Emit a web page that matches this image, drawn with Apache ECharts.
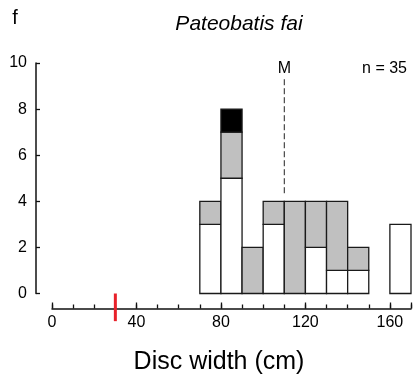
<!DOCTYPE html>
<html><head><meta charset="utf-8">
<script src="https://cdn.jsdelivr.net/npm/echarts@6/dist/echarts.min.js"></script>
<style>html,body{margin:0;padding:0;background:#fff}#c{width:414px;height:377px}</style>
</head><body><div id="c"></div>
<script>
// ---- data ----
const binStarts   = [70, 80, 90, 100, 110, 120, 130, 140, 150, 160];
const binWidth    = 10;
const whiteCounts = [3, 5, 0, 3, 0, 2, 1, 1, 0, 3];
const grayCounts  = [1, 2, 2, 1, 4, 2, 3, 1, 0, 0];
const blackCounts = [0, 1, 0, 0, 0, 0, 0, 0, 0, 0];
const xLabelValues = [0, 40, 80, 120, 160];
const yTickValues  = [0, 2, 4, 6, 8, 10];
const meanValue = 110;
const meanLineRange = [4.35, 9.3];
const markerValue = 30;
const markerRange = [-1.2, 0];
const sampleText = 'n = 35';
const speciesName = 'Pateobatis fai';
const panelLetter = 'f';
const xAxisTitle = 'Disc width (cm)';

// ---- build ----
const layerColors = ['#ffffff', '#c0c0c0', '#000000'];
const layers = [whiteCounts, grayCounts, blackCounts];
const rectData = [];
binStarts.forEach((s, i) => {
  let base = 0;
  layers.forEach((arr, li) => {
    const v = arr[i];
    if (v > 0) { rectData.push([s, s + binWidth, base, base + v, li]); base += v; }
  });
});

const FONT = '"Liberation Sans", Arial, sans-serif';
const axisLineStyle = { color: '#111', width: 1.5 };

const chart = echarts.init(document.getElementById('c'), null, { renderer: 'canvas' });
chart.setOption({
  animation: false,
  backgroundColor: '#fff',
  grid: { left: 52, right: 3, top: 63, bottom: 83.5, containLabel: false },
  xAxis: [{
    type: 'value', min: 0, max: 170, interval: 10, position: 'bottom', offset: 15,
    axisLine: { show: true, onZero: false, lineStyle: axisLineStyle },
    axisTick: { show: true, inside: true, length: 4, lineStyle: { color: '#111', width: 1.3 } },
    axisLabel: { show: true, margin: 6, fontSize: 16, color: '#000', fontFamily: FONT,
      formatter: v => (xLabelValues.indexOf(v) >= 0 ? String(v) : '') },
    splitLine: { show: false }
  }, {
    type: 'value', min: 0, max: 170, interval: 40, position: 'bottom', offset: 15,
    axisLine: { show: false, onZero: false },
    axisTick: { show: true, inside: true, length: 6, lineStyle: { color: '#111', width: 1.3 } },
    axisLabel: { show: false },
    splitLine: { show: false }
  }],
  yAxis: {
    type: 'value', min: 0, max: 10, interval: 2, offset: 16,
    axisLine: { show: true, onZero: false, lineStyle: axisLineStyle },
    axisTick: { show: true, inside: true, length: 4, lineStyle: { color: '#111', width: 1.3 } },
    axisLabel: { margin: 9, fontSize: 16, color: '#000', fontFamily: FONT,
      formatter: v => (yTickValues.indexOf(v) >= 0 ? String(v) : '') },
    splitLine: { show: false }
  },
  series: [{
    type: 'custom', xAxisIndex: 0, yAxisIndex: 0, data: rectData, z: 3,
    renderItem: (params, api) => {
      const p0 = api.coord([api.value(0), api.value(2)]);
      const p1 = api.coord([api.value(1), api.value(3)]);
      return { type: 'rect',
        shape: { x: p0[0], y: p1[1], width: p1[0] - p0[0], height: p0[1] - p1[1] },
        style: { fill: layerColors[api.value(4)], stroke: '#1a1a1a', lineWidth: 1.3 } };
    }
  }, {
    type: 'custom', xAxisIndex: 0, yAxisIndex: 0, data: [[meanValue, meanLineRange[0], meanLineRange[1]]], z: 4, clip: false,
    renderItem: (params, api) => {
      const a = api.coord([api.value(0), api.value(1)]);
      const b = api.coord([api.value(0), api.value(2)]);
      return { type: 'group', children: [
        { type: 'line', shape: { x1: a[0], y1: a[1], x2: b[0], y2: b[1] },
          style: { stroke: '#222', lineWidth: 1, lineDash: [6, 3] } },
        { type: 'text', style: { text: 'M', x: b[0], y: b[1] - 3, textAlign: 'center', textVerticalAlign: 'bottom',
          font: '16px ' + FONT, fill: '#000' } }
      ] };
    }
  }, {
    type: 'custom', xAxisIndex: 0, yAxisIndex: 0, data: [[markerValue, markerRange[0], markerRange[1]]], z: 10, clip: false,
    renderItem: (params, api) => {
      const a = api.coord([api.value(0), api.value(1)]);
      const b = api.coord([api.value(0), api.value(2)]);
      return { type: 'line', shape: { x1: a[0], y1: a[1], x2: b[0], y2: b[1] },
        style: { stroke: '#e8212a', lineWidth: 3 }, z2: 100 };
    }
  }],
  graphic: [
    { type: 'text', style: { text: panelLetter, x: 15, y: 18, textAlign: 'center', textVerticalAlign: 'middle', font: '20px ' + FONT, fill: '#000' } },
    { type: 'text', style: { text: speciesName, x: 239, y: 24, textAlign: 'center', textVerticalAlign: 'middle', font: 'italic 21px ' + FONT, fill: '#000' } },
    { type: 'text', style: { text: sampleText, x: 407, y: 69, textAlign: 'right', textVerticalAlign: 'middle', font: '16px ' + FONT, fill: '#000' } },
    { type: 'text', style: { text: xAxisTitle, x: 219, y: 362, textAlign: 'center', textVerticalAlign: 'middle', font: '25px ' + FONT, fill: '#000' } }
  ]
});
</script></body></html>
